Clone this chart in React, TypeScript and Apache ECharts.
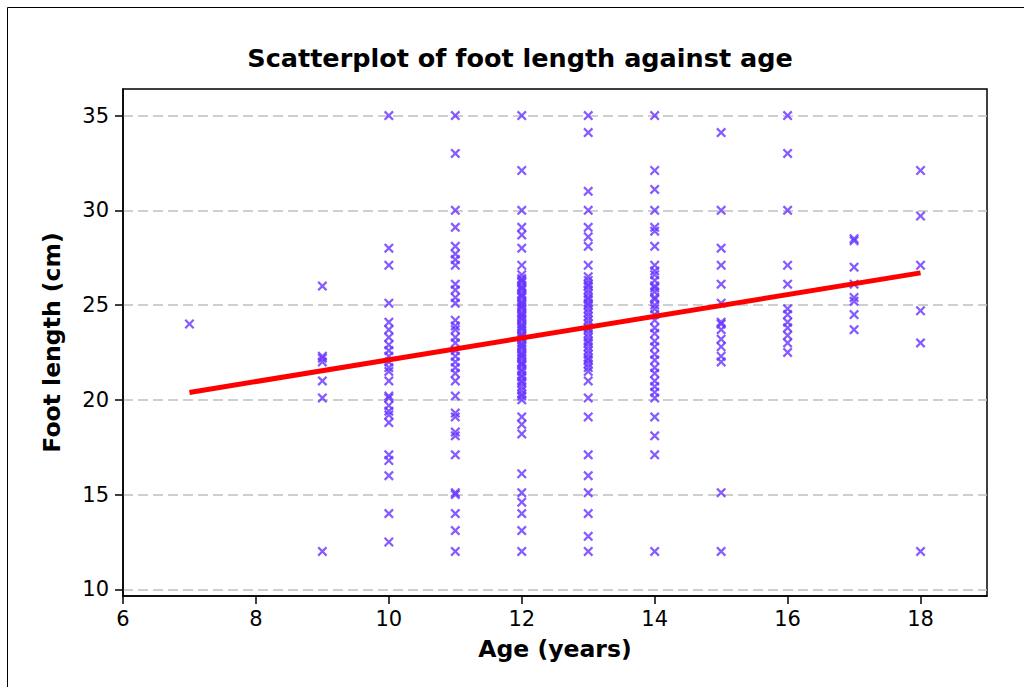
import { useEffect, useRef } from "react";
import * as echarts from "echarts";

// Age groups and the foot lengths (cm), one list per age
const ages = [7, 9, 10, 11, 12, 13, 14, 15, 16, 17, 18];

const lengthsAge7 = [24.0];
const lengthsAge9 = [26.0, 22.3, 22.2, 22.0, 21.0, 20.1, 12.0];
const lengthsAge10 = [35.0, 28.0, 27.1, 25.1, 24.1, 23.7, 23.3, 22.9, 22.6, 22.3, 22.0, 21.7, 21.5, 21.0, 20.2, 20.1, 19.7, 19.4, 19.2, 18.8, 17.1, 16.8, 16.0, 14.0, 12.5];
const lengthsAge11 = [35.0, 33.0, 30.0, 29.1, 28.1, 27.7, 27.4, 27.1, 26.1, 25.8, 25.4, 25.1, 24.2, 23.9, 23.7, 23.3, 23.0, 22.6, 22.3, 22.0, 21.7, 21.4, 21.0, 20.2, 19.3, 19.1, 18.3, 18.1, 17.1, 15.1, 15.0, 14.0, 13.1, 12.0];
const lengthsAge12 = [35.0, 32.1, 30.0, 29.1, 28.7, 28.0, 27.1, 26.6, 26.4, 26.3, 26.2, 26.0, 25.9, 25.8, 25.6, 25.5, 25.4, 25.2, 25.1, 25.0, 24.9, 24.8, 24.6, 24.5, 24.4, 24.3, 24.2, 24.0, 23.9, 23.8, 23.7, 23.5, 23.4, 23.3, 23.2, 23.0, 22.9, 22.8, 22.7, 22.5, 22.4, 22.3, 22.2, 22.0, 21.9, 21.8, 21.6, 21.5, 21.3, 21.2, 21.0, 20.9, 20.7, 20.5, 20.3, 20.2, 20.0, 19.1, 18.7, 18.2, 16.1, 15.1, 14.6, 14.0, 13.1, 12.0];
const lengthsAge13 = [35.0, 34.1, 31.0, 30.0, 29.1, 28.6, 28.1, 27.1, 26.5, 26.3, 26.1, 26.0, 25.8, 25.6, 25.4, 25.3, 25.1, 25.0, 24.8, 24.6, 24.4, 24.2, 24.0, 23.8, 23.7, 23.5, 23.3, 23.1, 23.0, 22.8, 22.6, 22.4, 22.2, 22.1, 21.9, 21.7, 21.5, 21.0, 20.1, 19.1, 17.1, 16.0, 15.1, 14.0, 12.8, 12.0];
const lengthsAge14 = [35.0, 32.1, 31.1, 30.0, 29.1, 28.9, 28.1, 27.1, 26.8, 26.6, 26.3, 26.0, 25.9, 25.7, 25.4, 25.3, 25.0, 24.8, 24.5, 24.2, 23.8, 23.5, 23.1, 22.8, 22.4, 22.1, 21.7, 21.4, 21.0, 20.7, 20.4, 20.1, 19.1, 18.1, 17.1, 12.0];
const lengthsAge15 = [34.1, 30.0, 28.0, 27.1, 26.1, 25.1, 24.1, 24.0, 23.7, 23.2, 22.8, 22.3, 22.0, 15.1, 12.0];
const lengthsAge16 = [35.0, 33.0, 30.0, 27.1, 26.1, 24.8, 24.5, 24.1, 23.8, 23.4, 23.0, 22.5];
const lengthsAge17 = [28.5, 28.4, 27.0, 26.1, 25.4, 25.2, 24.5, 23.7];
const lengthsAge18 = [32.1, 29.7, 27.1, 24.7, 23.0, 12.0];

const footLengths = [
  lengthsAge7, lengthsAge9, lengthsAge10, lengthsAge11, lengthsAge12, lengthsAge13,
  lengthsAge14, lengthsAge15, lengthsAge16, lengthsAge17, lengthsAge18,
];

// Fitted regression line end points
const fitAges = [7, 18];
const fitLengths = [20.39, 26.7];

const xTicks = [6, 8, 10, 12, 14, 16, 18];
const yTicks = [10, 15, 20, 25, 30, 35];

const FONT = "DejaVu Sans";
const X_MARK =
  "path://M0,1.6 L1.6,0 L5,3.4 L8.4,0 L10,1.6 L6.6,5 L10,8.4 L8.4,10 L5,6.6 L1.6,10 L0,8.4 L3.4,5 Z";

export default function App() {
  const ref = useRef<HTMLDivElement>(null);

  useEffect(() => {
    if (!ref.current) return;
    const chart = echarts.init(ref.current, undefined, { renderer: "svg" });

    const points: number[][] = [];
    ages.forEach((a, i) => footLengths[i].forEach((v) => points.push([a, v])));
    const fit = fitAges.map((a, i) => [a, fitLengths[i]]);

    chart.setOption({
      animation: false,
      backgroundColor: "#ffffff",
      textStyle: { fontFamily: FONT },
      graphic: [
        {
          type: "rect",
          shape: { x: 7.5, y: 7.5, width: 1200, height: 900 },
          style: { fill: "none", stroke: "#000", lineWidth: 1 },
          silent: true,
        },
        {
          type: "text",
          x: 520,
          y: 58,
          style: {
            text: "Scatterplot of foot length against age",
            font: `bold 25.5px '${FONT}'`,
            fill: "#000",
            align: "center",
            verticalAlign: "middle",
          },
        },
      ],
      grid: {
        left: 123,
        top: 89,
        right: 37,
        bottom: 91,
        show: true,
        borderColor: "#000",
        borderWidth: 1.5,
        backgroundColor: "transparent",
      },
      xAxis: {
        type: "value",
        min: 6,
        max: 19,
        name: "Age (years)",
        nameLocation: "middle",
        nameGap: 41,
        nameTextStyle: { fontFamily: FONT, fontWeight: "bold", fontSize: 23.5, color: "#000" },
        axisLine: { show: true, onZero: false, lineStyle: { color: "#000", width: 1.5 } },
        axisTick: { show: true, length: 8, customValues: xTicks, lineStyle: { color: "#000", width: 1.5 } },
        axisLabel: { customValues: xTicks, fontFamily: FONT, fontSize: 21, color: "#000", margin: 12 },
        splitLine: { show: false },
      },
      yAxis: {
        type: "value",
        min: 9.65,
        max: 36.4,
        name: "Foot length (cm)",
        nameLocation: "middle",
        nameGap: 59,
        nameTextStyle: { fontFamily: FONT, fontWeight: "bold", fontSize: 23.5, color: "#000" },
        axisLine: { show: true, onZero: false, lineStyle: { color: "#000", width: 1.5 } },
        axisTick: { show: true, length: 8, customValues: yTicks, lineStyle: { color: "#000", width: 1.5 } },
        axisLabel: { customValues: yTicks, fontFamily: FONT, fontSize: 21, color: "#000", margin: 14 },
        splitLine: { show: true, lineStyle: { color: "#c0c0c0", width: 1.5, type: [10, 5] } },
      },
      series: [
        {
          type: "scatter",
          data: points,
          symbol: X_MARK,
          symbolSize: 10,
          itemStyle: { color: "#6633ff" },
          z: 2,
        },
        {
          type: "line",
          data: fit,
          symbol: "none",
          lineStyle: { color: "#ff0000", width: 5 },
          z: 3,
        },
      ],
    });

    return () => chart.dispose();
  }, []);

  return (
    <div
      ref={ref}
      style={{ position: "absolute", left: 0, top: 0, width: 1024, height: 687 }}
    />
  );
}
